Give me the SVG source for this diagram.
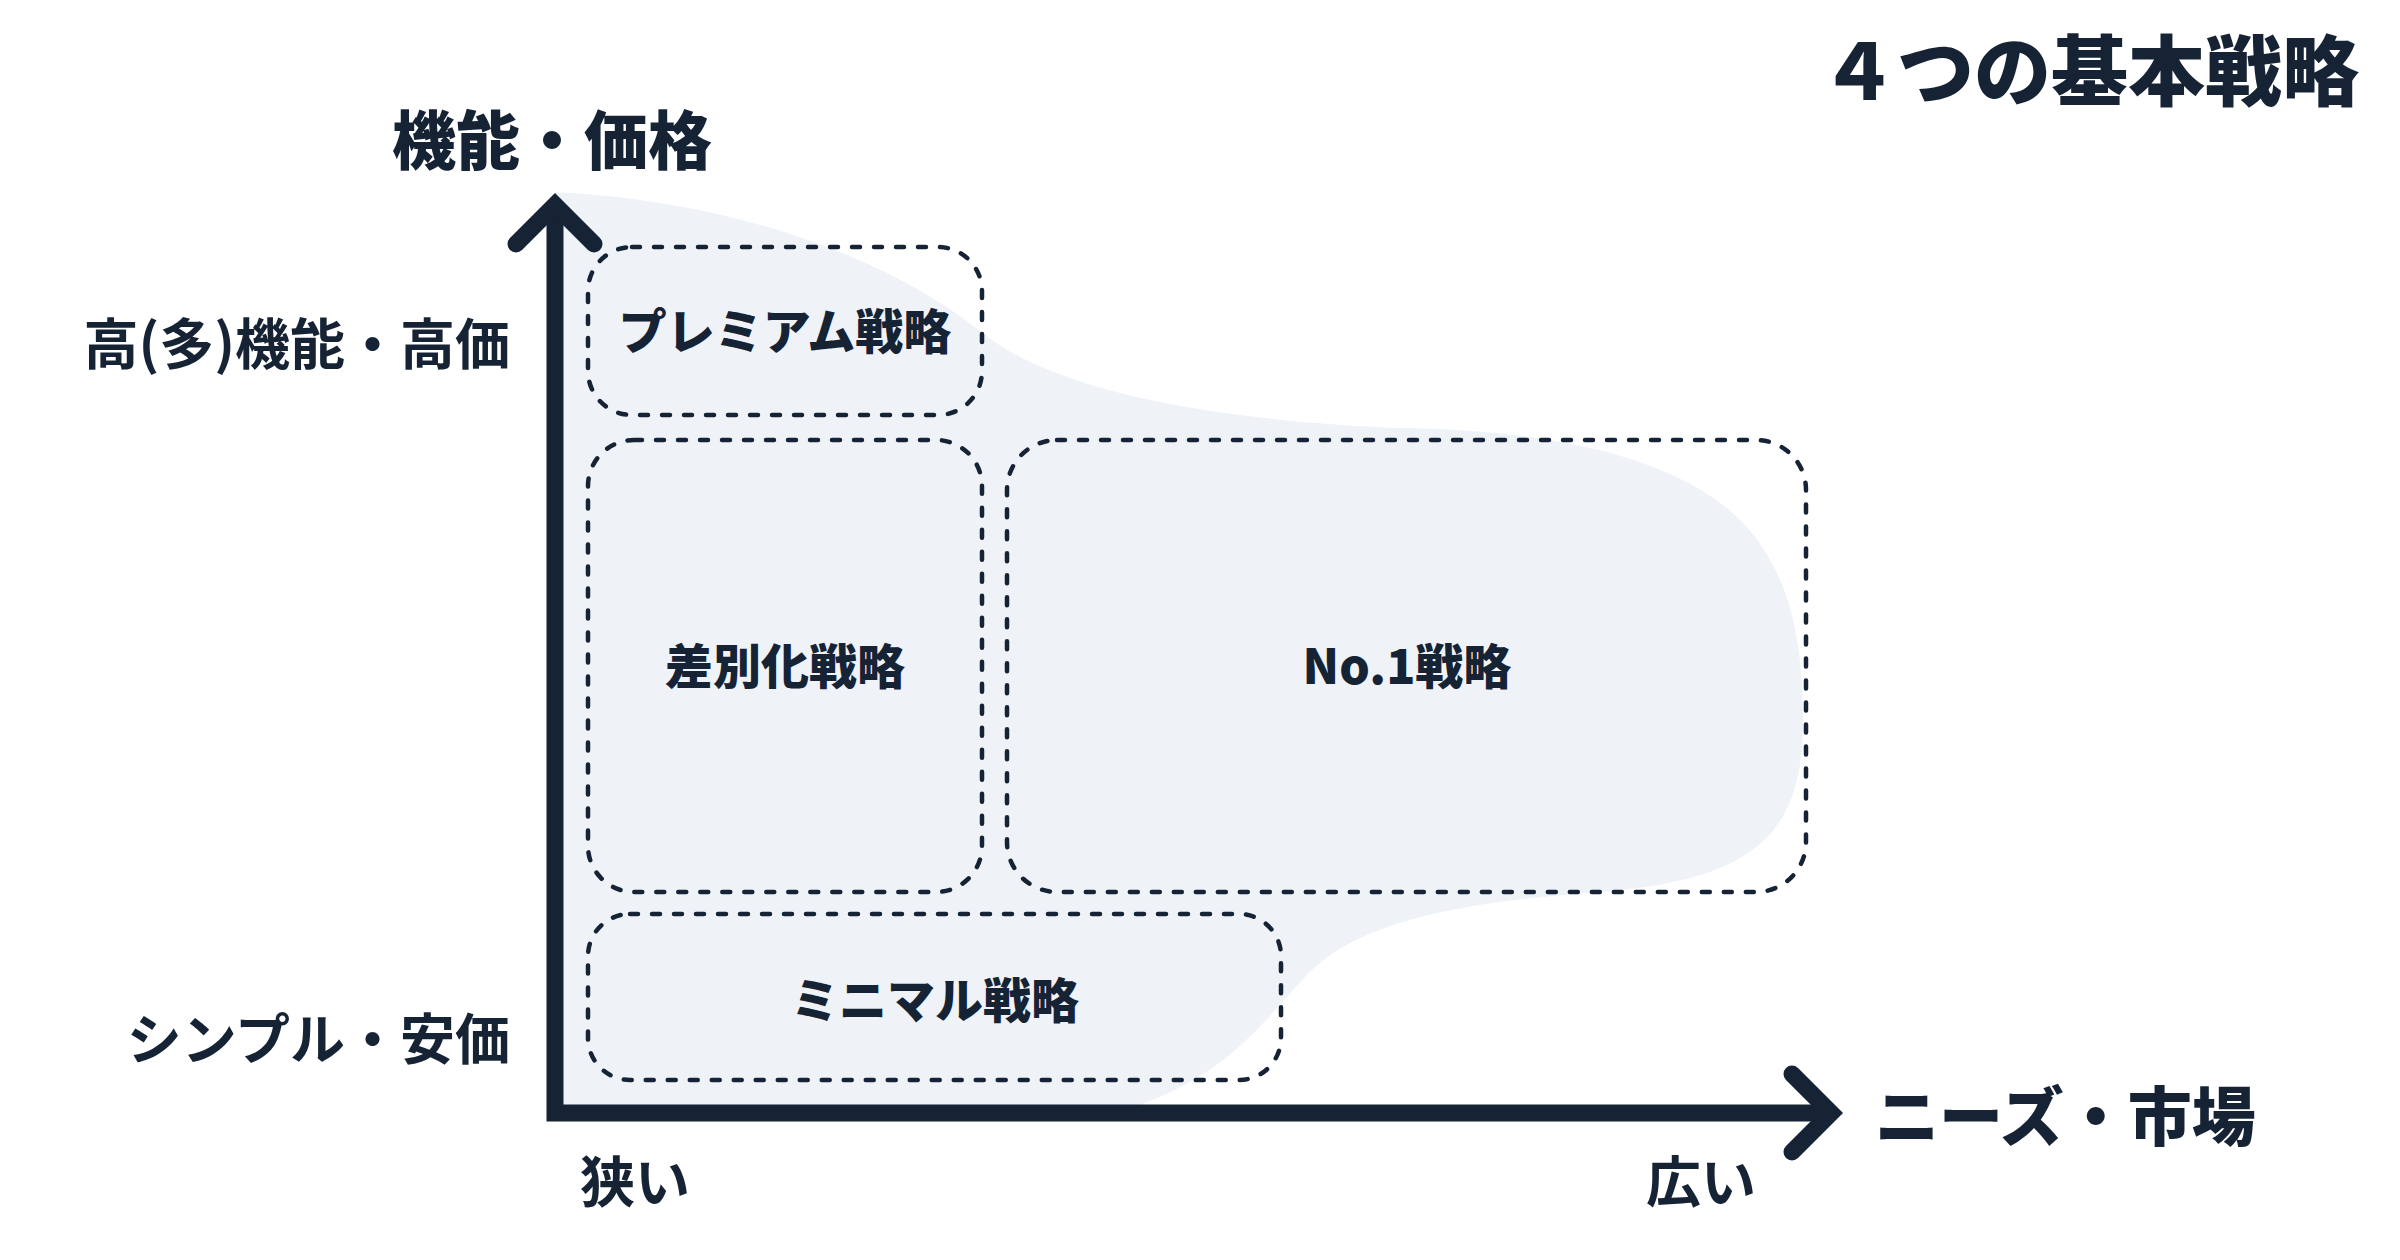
<svg xmlns="http://www.w3.org/2000/svg" width="2400" height="1260" viewBox="0 0 2400 1260">
  <style>
    text { font-family: "Noto Sans CJK JP", "Noto Sans", sans-serif; fill: #152335; }
    .title { font-size: 77px; font-weight: 900; }
    .axis-title { font-size: 64px; font-weight: 900; }
    .side { font-size: 55px; font-weight: 700; }
    .box-label { font-size: 48px; font-weight: 900; text-anchor: middle; }
    .box { fill: none; stroke: #152335; stroke-width: 4.5; stroke-dasharray: 8 14; stroke-linecap: round; }
    .axis { fill: none; stroke: #152335; stroke-width: 17; stroke-linejoin: miter; }
    .head { fill: none; stroke: #152335; stroke-width: 17; stroke-linecap: round; stroke-linejoin: miter; }
  </style>
  <rect width="2400" height="1260" fill="#ffffff"/>

  <g id="market-area">
    <path fill="#EFF3F8" d="M 555 192 C 720 200, 880 250, 985 335 C 1070 400, 1250 422, 1400 428 C 1560 430, 1680 460, 1740 520 C 1790 570, 1803 640, 1803 720 C 1803 830, 1760 880, 1600 892 C 1480 901, 1390 915, 1330 955 C 1280 990, 1250 1070, 1130 1108 L 1130 1113 L 555 1113 Z"/>
  </g>

  <g id="title">
    <text class="title" x="2359" y="100" text-anchor="end">４つの基本戦略</text>
  </g>

  <g id="node-premium">
    <rect class="box" x="588" y="247" width="394" height="168" rx="44"/>
    <text class="box-label" x="785" y="349">プレミアム戦略</text>
  </g>
  <g id="node-differentiation">
    <rect class="box" x="588" y="440" width="394" height="452" rx="46"/>
    <text class="box-label" x="785" y="684">差別化戦略</text>
  </g>
  <g id="node-no1">
    <rect class="box" x="1007" y="440" width="799" height="452" rx="50"/>
    <text class="box-label" x="1407" y="684">No.1戦略</text>
  </g>
  <g id="node-minimal">
    <rect class="box" x="588" y="914" width="693" height="166" rx="42"/>
    <text class="box-label" x="935" y="1018">ミニマル戦略</text>
  </g>

  <g id="connectors">
    <polyline class="axis" points="555,204 555,1113 1831,1113"/>
    <polyline class="head" points="516,244 555,205 594,244"/>
    <polyline class="head" points="1792,1074 1831,1113 1792,1152"/>
  </g>

  <g id="axis-labels">
    <text class="axis-title" x="392" y="164">機能・価格</text>
    <text class="axis-title" x="1875" y="1140">ニーズ・市場</text>
    <text class="side" x="510" y="364" text-anchor="end">高(多)機能・高価</text>
    <text class="side" x="510" y="1059" text-anchor="end">シンプル・安価</text>
    <text class="side" x="580" y="1202">狭い</text>
    <text class="side" x="1646" y="1202">広い</text>
  </g>
</svg>
